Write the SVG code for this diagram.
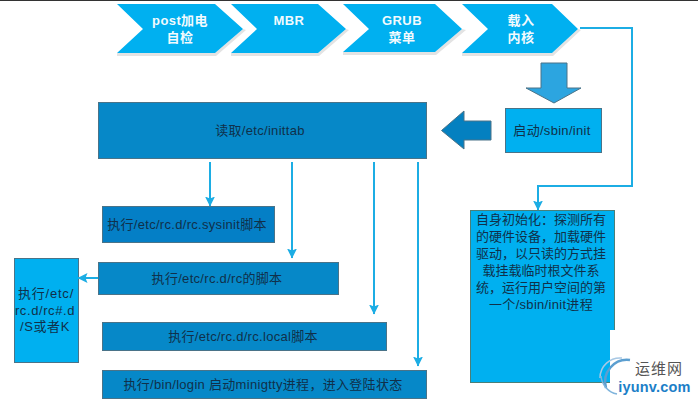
<svg xmlns="http://www.w3.org/2000/svg" width="698" height="402" viewBox="0 0 698 402">
<defs>
<marker id="ah" markerUnits="userSpaceOnUse" markerWidth="10" markerHeight="10" refX="9.500" refY="5" orient="auto"><path d="M0,0L10,5L0,10L2,5Z" fill="#1CADE4"/></marker>
</defs>
<style>
text{font-family:"Liberation Sans","Noto Sans CJK SC",sans-serif;font-size:13px;letter-spacing:.3px;text-anchor:middle;fill:#10304a}
.w{fill:#fff;font-weight:bold;font-size:13px;letter-spacing:.4px;opacity:.95}
.ch{fill:#00B0F0}
.sh{fill:#E3E3E3}
.b{fill:#0688C8;stroke:#4A7388;stroke-width:1}
.l{fill:#00B0F0;stroke:#4A7388;stroke-width:1}
.c{fill:none;stroke:#1CADE4;stroke-width:2}
.t0{letter-spacing:0}
</style>
<rect width="698" height="402" fill="#fff"/>
<rect width="698" height="1" fill="#333"/>
<g id="n-post"><path class="sh" d="M117,56H216L246,30L243,29L215,53H117Z"/><path class="ch" d="M117,4H215L243,29L215,53H117L143,29Z"/><text class="w" x="180" y="25">post加电</text><text class="w" x="180" y="42">自检</text></g>
<g id="n-mbr"><path class="sh" d="M231,56H319L349,30L346,29L318,53H231Z"/><path class="ch" d="M231,4H318L346,29L318,53H231L257,29Z"/><text class="w" x="289" y="25">MBR</text></g>
<g id="n-grub"><path class="sh" d="M343,55H436L466,30L462,29L435,52H343Z"/><path class="ch" d="M343,4H435L462,29L435,52H343L369,29Z"/><text class="w" x="402" y="25">GRUB</text><text class="w" x="402" y="42">菜单</text></g>
<g id="n-kernel"><path class="sh" d="M462,56H553L581,30L578,29L552,53H462Z"/><path class="ch" d="M462,4H552L578,29L552,53H462L488,29Z"/><text class="w" x="521" y="25">载入</text><text class="w" x="521" y="42">内核</text></g>
<g id="arrow-down"><path d="M541,63H567V88H581L554,103L526,88H541Z" fill="#2CA5E0" stroke="#4A7388" stroke-width="1"/></g>
<g id="n-init"><rect class="l" x="505.500" y="108.500" width="96" height="44"/><text x="552" y="135">启动/sbin/init</text></g>
<g id="arrow-left"><path d="M441.500,130.500L464,111V121H491V140H464V149Z" fill="#0480C0" stroke="#4A7388" stroke-width="1"/></g>
<g id="n-inittab"><rect class="b" x="98.500" y="102.500" width="328" height="56"/><text x="260" y="135">读取/etc/inittab</text></g>
<g id="n-sysinit"><rect x="102.500" y="206.500" width="172" height="36" fill="#047FC6" stroke="#4A7388"/><text x="187" y="229">执行/etc/rc.d/rc.sysinit脚本</text></g>
<g id="n-rc"><rect class="b" x="98.500" y="262.500" width="240" height="32"/><text x="217" y="283">执行/etc/rc.d/rc的脚本</text></g>
<g id="n-local"><rect class="b" x="102.500" y="322.500" width="284" height="28"/><text x="243" y="341">执行/etc/rc.d/rc.local脚本</text></g>
<g id="n-login"><rect class="b" x="102.500" y="370.500" width="324" height="28"/><text x="263" y="389">执行/bin/login 启动minigtty进程，进入登陆状态</text></g>
<g id="n-sk"><rect class="l" x="14.500" y="258.500" width="64" height="104"/><text x="46" y="298" style="letter-spacing:.8px">执行/etc/</text><text x="45" y="315" style="letter-spacing:.6px">rc.d/rc#.d</text><text x="45" y="331" style="letter-spacing:.6px">/S或者K</text></g>
<g id="n-self"><rect x="470.500" y="210.500" width="144" height="172" fill="#00B0F0" stroke="#4A7F78"/>
<text class="t0" x="541" y="224">自身初始化：探测所有</text><text class="t0" x="541" y="241">的硬件设备，加载硬件</text><text class="t0" x="541" y="258">驱动，以只读的方式挂</text><text class="t0" x="541" y="275">载挂载临时根文件系</text><text class="t0" x="541" y="292">统，运行用户空间的第</text><text x="541" y="309">一个/sbin/init进程</text></g>
<g id="connectors">
<path class="c" d="M210,162V206" marker-end="url(#ah)"/>
<path class="c" d="M292,162V258" marker-end="url(#ah)"/>
<path class="c" d="M374,162V314" marker-end="url(#ah)"/>
<path class="c" d="M418,162V366" marker-end="url(#ah)"/>
<path class="c" d="M98,278H78" marker-end="url(#ah)"/>
<path class="c" d="M580,28H632V186H538V210" marker-end="url(#ah)"/>
</g>
<g id="watermark">
<path d="M610,330H625V345H616V358H640V384H610Z" fill="#fff"/>
<rect x="610" y="376" width="88" height="26" fill="#fff"/>
<path d="M606,388A22,22 0 0 1 630,360" fill="none" stroke="#5C9FD0" stroke-width="2.500"/>
<path d="M600,378A20,20 0 0 1 622,358" fill="none" stroke="#A8C8E4" stroke-width="1.500"/>
<path d="M601,376A20,20 0 0 0 617,394" fill="none" stroke="#7FB4DC" stroke-width="1.500"/>
<text x="659" y="374" style="font-size:15px;letter-spacing:1px;fill:#555">运维网</text>
<text x="654.500" y="392" style="font-size:14.500px;letter-spacing:.2px;font-weight:bold;fill:#1C80C8">iyunv.com</text>
</g>
</svg>
